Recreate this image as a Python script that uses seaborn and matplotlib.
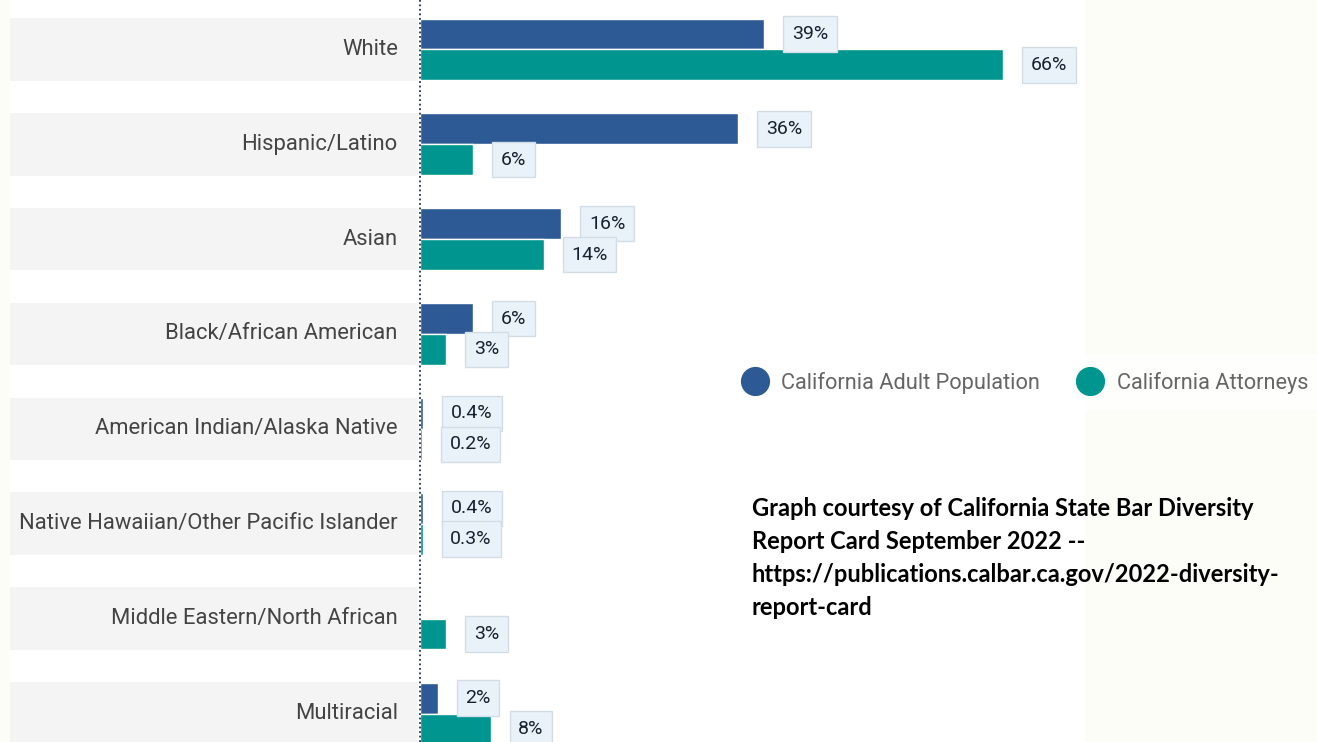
import pandas as pd
import matplotlib.pyplot as plt
import seaborn as sns
from matplotlib.lines import Line2D

# Data
categories = ['White', 'Hispanic/Latino', 'Asian', 'Black/African American',
              'American Indian/Alaska Native', 'Native Hawaiian/Other Pacific Islander',
              'Middle Eastern/North African', 'Multiracial']
population = [39, 36, 16, 6, 0.4, 0.4, None, 2]
attorneys = [66, 6, 14, 3, 0.2, 0.3, 3, 8]
population_labels = ['39%', '36%', '16%', '6%', '0.4%', '0.4%', '', '2%']
attorney_labels = ['66%', '6%', '14%', '3%', '0.2%', '0.3%', '3%', '8%']
groups = ['California Adult Population', 'California Attorneys']
colors = ['#2d5a95', '#00968f']

df = pd.DataFrame({
    'category': categories * 2,
    'group': [groups[0]] * len(categories) + [groups[1]] * len(categories),
    'value': population + attorneys,
})

sns.set_theme(style='white')
plt.rcParams['font.family'] = ['Roboto', 'DejaVu Sans']

fig = plt.figure(figsize=(13.17, 7.42), dpi=100, facecolor='#fdfdf7')
ax = fig.add_axes([10 / 1317, 0, 1075 / 1317, 1])
ax.set_facecolor('white')

# grey bands behind the category names
for i in range(len(categories)):
    ax.axhspan(i - 0.33, i + 0.33, xmin=0, xmax=0.3795, color='#f4f4f4', lw=0, zorder=0)

sns.barplot(data=df, x='value', y='category', hue='group', order=categories,
            hue_order=groups, palette=colors, orient='h', width=0.65,
            saturation=1, legend=False, ax=ax, zorder=2)

# value boxes next to each bar (NaN bars are dropped, so match by row)
for cont, labs in zip(ax.containers, [population_labels, attorney_labels]):
    for bar in cont:
        if bar is None:
            continue
        yc = bar.get_y() + bar.get_height() / 2
        lab = labs[int(round(yc))]
        if not lab:
            continue
        ax.annotate(lab, (bar.get_width(), yc),
                    xytext=(20, 0), textcoords='offset points', ha='left', va='center',
                    fontsize=14, color='#16222f', zorder=4,
                    bbox=dict(boxstyle='square,pad=0.45', fc='#e9f2f9', ec='#d3dde6', lw=1))

for i, name in enumerate(categories):
    ax.text(-2.5, i, name, ha='right', va='center', fontsize=15.8, color='#444444')

ax.axvline(0, color='#1f3556', linestyle=(0, (1, 1.5)), lw=1.3, zorder=3)

ax.set_xlim(-46.4, 75.3)
ax.set_ylim(7.3, -0.52)
ax.set_xlabel('')
ax.set_ylabel('')
ax.set_xticks([])
ax.set_yticks([])
for s in ax.spines.values():
    s.set_visible(False)

handles = [Line2D([], [], marker='o', ls='', markersize=20, color=c) for c in colors]
leg = fig.legend(handles, groups, loc='center left', bbox_to_anchor=(705 / 1317, 1 - 383 / 742),
                 ncol=2, frameon=True, fontsize=15.7, handletextpad=0.2, columnspacing=1.3,
                 fancybox=False, borderpad=0.8)
leg.get_frame().set_facecolor('white')
leg.get_frame().set_edgecolor('none')
for t in leg.get_texts():
    t.set_color('#666666')

fig.text(752 / 1317, 1 - 497 / 742,
         'Graph courtesy of California State Bar Diversity\n'
         'Report Card September 2022 --\n'
         'https://publications.calbar.ca.gov/2022-diversity-\n'
         'report-card',
         ha='left', va='top', fontsize=17, fontweight='bold', family='Lato',
         color='black', linespacing=1.52)

fig.savefig('out.png', dpi=100, facecolor=fig.get_facecolor())
